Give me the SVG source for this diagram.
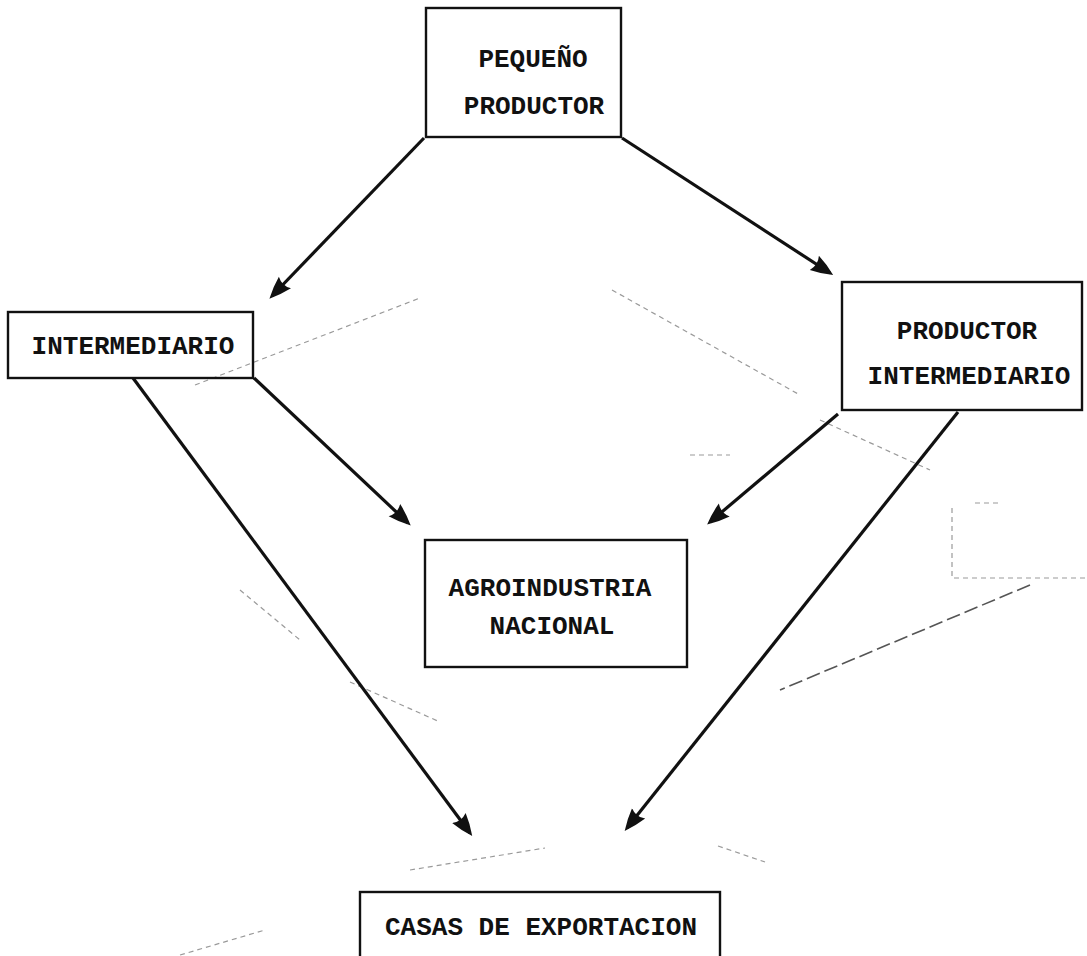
<svg xmlns="http://www.w3.org/2000/svg" width="1087" height="956" viewBox="0 0 1087 956">
  <style>
    .box { fill: none; stroke: #111; stroke-width: 2.4; }
    .lbl { font-family: "Liberation Mono", "Courier New", monospace; font-weight: bold; font-size: 26px; fill: #111; }
    .edge { fill: none; stroke: #111; stroke-width: 3.2; }
    .ghost { fill: none; stroke: #9a9a9a; stroke-width: 1.2; stroke-dasharray: 5 4; }
  </style>
  <defs>
    <marker id="head" viewBox="0 0 12 10" refX="10" refY="5" markerWidth="7" markerHeight="6" orient="auto" markerUnits="strokeWidth">
      <path d="M0,0.5 Q6,2 12,5 Q6,8 0,9.5 Q2.5,5 0,0.5 Z" fill="#111"/>
    </marker>
  </defs>

  <rect width="1087" height="956" fill="#fff"/>

  <!-- faint show-through marks on the sheet -->
  <g id="faint-marks">
    <path class="ghost" d="M195,385 L420,298"/>
    <path class="ghost" d="M612,290 L800,395"/>
    <path class="ghost" d="M820,420 L930,470"/>
    <path class="ghost" d="M690,455 L730,455"/>
    <path class="ghost" d="M952,508 L952,578 L1087,578"/>
    <path class="ghost" d="M975,503 L1000,503"/>
    <path d="M1030,585 L780,690" fill="none" stroke="#555" stroke-width="1.6" stroke-dasharray="14 5"/>
    <path class="ghost" d="M240,590 L300,640"/>
    <path class="ghost" d="M350,682 L440,722"/>
    <path class="ghost" d="M410,870 L545,848"/>
    <path class="ghost" d="M718,846 L765,862"/>
    <path class="ghost" d="M180,955 L265,930"/>
  </g>

  <!-- connectors -->
  <g id="connectors">
    <line class="edge" x1="424" y1="138" x2="272" y2="296" marker-end="url(#head)"/>
    <line class="edge" x1="622" y1="138" x2="830" y2="273" marker-end="url(#head)"/>
    <line class="edge" x1="254" y1="378" x2="408" y2="523" marker-end="url(#head)"/>
    <line class="edge" x1="133" y1="378" x2="470" y2="833" marker-end="url(#head)"/>
    <line class="edge" x1="838" y1="414" x2="710" y2="522" marker-end="url(#head)"/>
    <line class="edge" x1="958" y1="412" x2="627" y2="828" marker-end="url(#head)"/>
  </g>

  <g id="pequeno-productor">
    <rect class="box" x="426" y="8" width="195" height="129"/>
    <text class="lbl" x="533" y="67" text-anchor="middle">PEQUEÑO</text>
    <text class="lbl" x="534" y="114" text-anchor="middle">PRODUCTOR</text>
  </g>

  <g id="intermediario">
    <rect class="box" x="8" y="312" width="245" height="66"/>
    <text class="lbl" x="133" y="354" text-anchor="middle">INTERMEDIARIO</text>
  </g>

  <g id="productor-intermediario">
    <rect class="box" x="842" y="282" width="240" height="128"/>
    <text class="lbl" x="967" y="339" text-anchor="middle">PRODUCTOR</text>
    <text class="lbl" x="969" y="384" text-anchor="middle">INTERMEDIARIO</text>
  </g>

  <g id="agroindustria-nacional">
    <rect class="box" x="425" y="540" width="262" height="127"/>
    <text class="lbl" x="550" y="596" text-anchor="middle">AGROINDUSTRIA</text>
    <text class="lbl" x="552" y="634" text-anchor="middle">NACIONAL</text>
  </g>

  <g id="casas-de-exportacion">
    <rect class="box" x="360" y="892" width="360" height="70"/>
    <text class="lbl" x="541" y="935" text-anchor="middle">CASAS DE EXPORTACION</text>
  </g>
</svg>
